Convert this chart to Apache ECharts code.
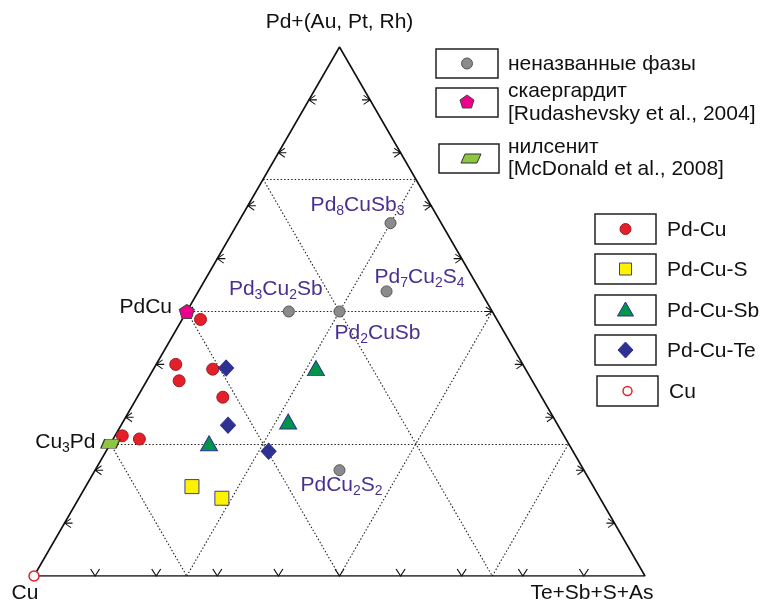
<!DOCTYPE html>
<html>
<head>
<meta charset="utf-8">
<script src="https://cdn.jsdelivr.net/npm/echarts@6/dist/echarts.min.js"></script>
<style>html,body{margin:0;padding:0;background:#fff}#c{width:763px;height:600px}</style>
</head>
<body>
<div id="c"></div>
<script>
// ===== DATA (ternary compositions in %, [Pd+(Au,Pt,Rh), Te+Sb+S+As]; Cu = remainder) =====
const vertexNames = ['Cu', 'Pd+(Au, Pt, Rh)', 'Te+Sb+S+As'];
const unnamedPhaseNames = ['Pd8CuSb3', 'Pd7Cu2S4', 'Pd3Cu2Sb', 'Pd2CuSb', 'PdCu2S2'];
const unnamedPhasePd = [66.7, 53.8, 50.0, 50.0, 20.0];
const unnamedPhaseX  = [25.0, 30.8, 16.7, 25.0, 40.0];
const skaergaardite = [[50.0, 0.0]];   // PdCu
const nielsenite = [[25.0, 0.0]];      // Cu3Pd
const pdCu   = [[48.5, 3.0], [40.0, 3.2], [39.1, 9.7], [36.9, 5.3], [33.8, 14.0], [26.5, 1.2], [25.9, 4.3]];
const pdCuS  = [[16.9, 17.4], [14.7, 23.4]];
const pdCuSb = [[39.3, 26.5], [29.2, 27.0], [25.1, 16.1]];
const pdCuTe = [[39.3, 11.8], [28.5, 17.5], [23.6, 26.6]];
const cuPoint = [[0, 0]];
const edgeLabels = ['PdCu', 'Cu3Pd'];
const tickValues = [10, 20, 30, 40, 50, 60, 70, 80, 90];
// grid lines: [Pd1, X1, Pd2, X2]
const gridSegments = [
  [25, 0, 25, 75], [50, 0, 50, 50], [75, 0, 75, 25],
  [0, 25, 75, 25], [0, 50, 50, 50], [0, 75, 25, 75],
  [25, 0, 0, 25], [50, 0, 0, 50], [75, 0, 0, 75]
];
const legendTopLabels = [['неназванные фазы'], ['скаергардит', '[Rudashevsky et al., 2004]'], ['нилсенит', '[McDonald et al., 2008]']];
const legendRightLabels = ['Pd-Cu', 'Pd-Cu-S', 'Pd-Cu-Sb', 'Pd-Cu-Te', 'Cu'];

// ===== helpers =====
const H = Math.sqrt(3) / 2;
function tern(pd, x) { return [x + pd / 2, pd * H]; }
function toXY(arr) { return arr.map(p => tern(p[0], p[1])); }
function richName(name, n, s) {
  return name.match(/\d+|\D+/g).map(t => /\d/.test(t) ? '{' + s + '|' + t + '}' : '{' + n + '|' + t + '}').join('');
}
const PURPLE = '#4b2f8f';
const FONT = 'Liberation Sans, Arial, sans-serif';
const richStyles = {
  n: { fontSize: 21, color: PURPLE, fontFamily: FONT, lineHeight: 24 },
  s: { fontSize: 14, color: PURPLE, fontFamily: FONT, lineHeight: 24, padding: [12, 0, 0, 0] },
  nb: { fontSize: 21, color: '#111', fontFamily: FONT, lineHeight: 24 },
  sb: { fontSize: 14, color: '#111', fontFamily: FONT, lineHeight: 24, padding: [12, 0, 0, 0] }
};
const phaseLabelOffset = [[-33, -18], [33, -14], [-13, -22], [38, 22], [2, 15]];

const PENTAGON = 'path://M5,0 L10,3.6 L8.1,10 L1.9,10 L0,3.6 Z';
const PARALLELOGRAM = 'path://M4,0 L20,0 L16,9 L0,9 Z';

// ticks
const tickLeft = tickValues.map(t => tern(t, 0));
const tickBottom = tickValues.map(t => tern(0, t));
const tickRight = tickValues.map(t => tern(t, 100 - t));

const series = [];
// triangle frame
series.push({
  type: 'line', data: [tern(0, 0), tern(100, 0), tern(0, 100), tern(0, 0)],
  symbol: 'none', lineStyle: { color: '#111', width: 1.6, opacity: 1 }, silent: true, z: 3, animation: false
});
// dotted grid
series.push({
  type: 'lines', coordinateSystem: 'cartesian2d', polyline: false, silent: true, z: 2, animation: false,
  lineStyle: { color: '#222', width: 1.1, type: [1.5, 2], opacity: 1 },
  data: gridSegments.map(s => ({ coords: [tern(s[0], s[1]), tern(s[2], s[3])] }))
});
function tickSeries(data, path, size, offset) {
  return {
    type: 'scatter', data, symbol: path, symbolSize: size, symbolOffset: offset, silent: true, z: 3, animation: false,
    itemStyle: { color: 'rgba(0,0,0,0)', borderColor: '#111', borderWidth: 1, opacity: 1 }
  };
}
series.push(tickSeries(tickLeft, 'path://M8,0 L0,5 L8,10 M0,5 L10,5', [8, 9], [4, 0]));
series.push(tickSeries(tickBottom, 'path://M0,0 L5,10 L10,0', [9, 7], [0, -3.5]));
series.push(tickSeries(tickRight, 'path://M2,0 L10,5 L2,10 M0,5 L10,5', [8, 9], [-4, 0]));

const hiddenItem = { color: 'rgba(0,0,0,0)', borderWidth: 0, opacity: 1 };
// vertex labels
const vertexPos = [tern(0, 0), tern(100, 0), tern(0, 100)];
const vertexOffsets = [[-9, 17], [0, -25], [-53, 17]];
series.push({
  type: 'scatter', symbol: 'circle', symbolSize: 1, silent: true, z: 8, animation: false,
  itemStyle: hiddenItem,
  data: vertexPos.map((p, i) => ({
    value: p,
    label: { show: true, formatter: vertexNames[i], position: 'inside', offset: vertexOffsets[i],
      fontSize: 21, color: '#111', fontFamily: FONT }
  }))
});
// edge compound labels
const edgePos = [tern(50, 0), tern(25, 0)];
const edgeOffsets = [[-41, -4], [-45, -2]];
series.push({
  type: 'scatter', symbol: 'circle', symbolSize: 1, silent: true, z: 8, animation: false,
  itemStyle: hiddenItem,
  data: edgePos.map((p, i) => ({
    value: p,
    label: { show: true, formatter: richName(edgeLabels[i], 'nb', 'sb'), position: 'inside', offset: edgeOffsets[i], rich: richStyles }
  }))
});
const solid = (c, b, w) => ({ color: c, borderColor: b, borderWidth: w, opacity: 1 });
// unnamed phases
series.push({
  type: 'scatter', name: 'неназванные фазы', symbol: 'circle', symbolSize: 11, z: 6, animation: false,
  itemStyle: solid('#8b8b8d', '#555', 1),
  data: unnamedPhasePd.map((pd, i) => ({
    value: tern(pd, unnamedPhaseX[i]),
    label: { show: true, formatter: richName(unnamedPhaseNames[i], 'n', 's'), position: 'inside', offset: phaseLabelOffset[i], rich: richStyles }
  }))
});
series.push({
  type: 'scatter', name: 'Pd-Cu', symbol: 'circle', symbolSize: 12, z: 6, animation: false,
  itemStyle: solid('#e3202a', '#a21a20', 1), data: toXY(pdCu)
});
series.push({
  type: 'scatter', name: 'Pd-Cu-S', symbol: 'rect', symbolSize: 14, z: 6, animation: false,
  itemStyle: solid('#fff200', '#3a3d99', 1), data: toXY(pdCuS)
});
series.push({
  type: 'scatter', name: 'Pd-Cu-Sb', symbol: 'triangle', symbolSize: [17, 15], z: 6, animation: false,
  itemStyle: solid('#00944a', '#2e3192', 1), data: toXY(pdCuSb)
});
series.push({
  type: 'scatter', name: 'Pd-Cu-Te', symbol: 'diamond', symbolSize: [15, 16], z: 6, animation: false,
  itemStyle: solid('#2e3192', '#2e3192', 1), data: toXY(pdCuTe)
});
series.push({
  type: 'scatter', name: 'скаергардит', symbol: PENTAGON, symbolSize: [15, 14], z: 7, animation: false,
  itemStyle: solid('#ec008c', '#444', 1), data: toXY(skaergaardite)
});
series.push({
  type: 'scatter', name: 'нилсенит', symbol: PARALLELOGRAM, symbolSize: [19, 9], z: 7, animation: false,
  itemStyle: solid('#8dc63f', '#333', 1), data: toXY(nielsenite)
});
series.push({
  type: 'scatter', name: 'Cu', symbol: 'circle', symbolSize: 10, z: 7, animation: false,
  itemStyle: solid('#fff', '#e3202a', 1.5), data: toXY(cuPoint)
});

// ===== legend (graphic) =====
const graphic = [];
const boxStyle = { fill: '#fff', stroke: '#222', lineWidth: 1.5 };
const textStyle = (txt, x, y) => ({ type: 'text', x, y, style: { text: txt, fontSize: 21, fontFamily: FONT, fill: '#111', verticalAlign: 'middle' } });
// top legend
const topBoxes = [[436, 49, 62, 29], [436, 88, 62, 29], [439, 144, 60, 29]];
const topTextY = [[64], [91, 114], [147, 169]];
topBoxes.forEach((b, i) => {
  graphic.push({ type: 'rect', shape: { x: b[0], y: b[1], width: b[2], height: b[3] }, style: boxStyle });
  legendTopLabels[i].forEach((t, j) => graphic.push(textStyle(t, 508, topTextY[i][j])));
});
graphic.push({ type: 'circle', shape: { cx: 467, cy: 63.5, r: 5.5 }, style: { fill: '#8b8b8d', stroke: '#555', lineWidth: 1 } });
graphic.push({ type: 'polygon', shape: { points: [[467, 95], [474, 100], [471.5, 108], [462.5, 108], [460, 100]] }, style: { fill: '#ec008c', stroke: '#444', lineWidth: 1 } });
graphic.push({ type: 'polygon', shape: { points: [[465, 154], [481, 154], [477, 163], [461, 163]] }, style: { fill: '#8dc63f', stroke: '#333', lineWidth: 1 } });
// right legend
const rightBoxes = [[595, 214, 61, 30], [595, 254, 61, 30], [595, 295, 61, 30], [595, 335, 61, 30], [597, 376, 61, 30]];
rightBoxes.forEach((b, i) => {
  graphic.push({ type: 'rect', shape: { x: b[0], y: b[1], width: b[2], height: b[3] }, style: boxStyle });
  graphic.push(textStyle(legendRightLabels[i], b[0] + 72, b[1] + 16));
});
graphic.push({ type: 'circle', shape: { cx: 625.5, cy: 229, r: 5.5 }, style: { fill: '#e3202a', stroke: '#a21a20', lineWidth: 1 } });
graphic.push({ type: 'rect', shape: { x: 619.5, y: 263, width: 12, height: 12 }, style: { fill: '#fff200', stroke: '#3a3d99', lineWidth: 1 } });
graphic.push({ type: 'polygon', shape: { points: [[625.5, 302], [633.5, 316], [617.5, 316]] }, style: { fill: '#00944a', stroke: '#2e3192', lineWidth: 1 } });
graphic.push({ type: 'polygon', shape: { points: [[625.5, 342], [633, 350], [625.5, 358], [618, 350]] }, style: { fill: '#2e3192', stroke: '#2e3192', lineWidth: 1 } });
graphic.push({ type: 'circle', shape: { cx: 627.5, cy: 391, r: 4.5 }, style: { fill: '#fff', stroke: '#e3202a', lineWidth: 1.5 } });

const chart = echarts.init(document.getElementById('c'), null, { renderer: 'canvas' });
chart.setOption({
  backgroundColor: '#fff',
  animation: false,
  grid: { left: 34, top: 47, width: 611, height: 529 },
  xAxis: { type: 'value', min: 0, max: 100, show: false },
  yAxis: { type: 'value', min: 0, max: 100 * H, show: false },
  series,
  graphic
});
</script>
</body>
</html>
